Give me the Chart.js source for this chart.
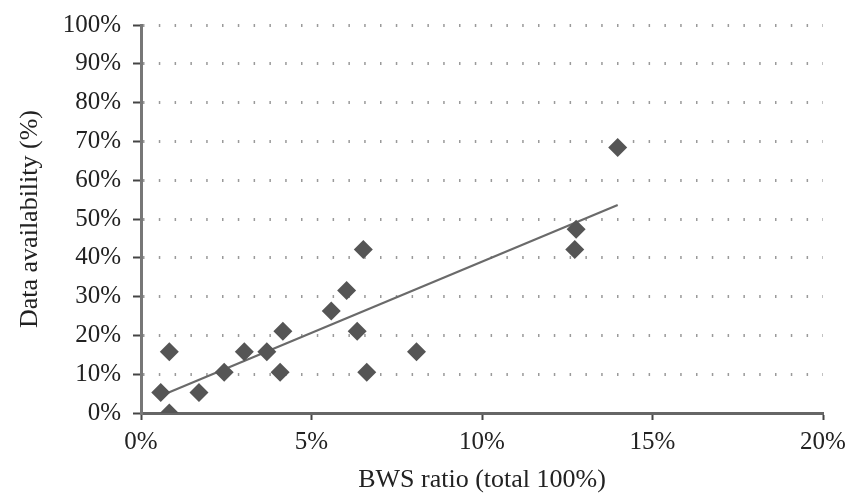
<!DOCTYPE html>
<html>
<head>
<meta charset="utf-8">
<script src="https://cdn.jsdelivr.net/npm/chart.js@4/dist/chart.umd.min.js"></script>
<style>
  html, body { margin: 0; padding: 0; background: #fff; }
  #wrap { width: 849px; height: 497px; }
</style>
</head>
<body>
<div id="wrap"><canvas id="c" width="849" height="497"></canvas></div>
<script>
// BWS ratio (x, fraction of total) for each observation
const bwsRatio = [0.0083, 0.0058, 0.0083, 0.0170, 0.0244, 0.0303, 0.0369, 0.0408, 0.0416,
                  0.0558, 0.0603, 0.0634, 0.0652, 0.0662, 0.0808, 0.1276, 0.1272, 0.1398];
// Data availability (y, fraction) for each observation
const dataAvailability = [0.0, 0.0526, 0.1579, 0.0526, 0.1053, 0.1579, 0.1579, 0.1053, 0.2105,
                          0.2632, 0.3158, 0.2105, 0.4211, 0.1053, 0.1579, 0.4737, 0.4211, 0.6842];
// Linear trend line end points
const trendX = [0.006, 0.1398];
const trendY = [0.045, 0.536];
// Axis tick values
const xTicks = [0, 0.05, 0.10, 0.15, 0.20];
const yTicks = [0, 0.1, 0.2, 0.3, 0.4, 0.5, 0.6, 0.7, 0.8, 0.9, 1.0];

const pts = bwsRatio.map((x, i) => ({ x: x, y: dataAvailability[i] }));
const trend = trendX.map((x, i) => ({ x: x, y: trendY[i] }));

const FONT = '"Liberation Serif", "Times New Roman", serif';
const pct = v => Math.round(v * 100) + '%';

new Chart(document.getElementById('c'), {
  type: 'scatter',
  data: {
    datasets: [
      {
        label: 'Trend',
        data: trend,
        showLine: true,
        borderColor: '#6a6a6a',
        borderWidth: 2.2,
        pointRadius: 0,
        fill: false,
        order: 2
      },
      {
        label: 'Data availability',
        data: pts,
        pointStyle: 'rectRot',
        pointRadius: 9.5,
        backgroundColor: '#555555',
        borderColor: '#555555',
        borderWidth: 0,
        order: 1
      }
    ]
  },
  options: {
    responsive: false,
    animation: false,
    devicePixelRatio: 1,
    layout: { padding: { left: 0, right: 26, top: 25, bottom: 0 } },
    plugins: { legend: { display: false }, tooltip: { enabled: false } },
    scales: {
      x: {
        type: 'linear',
        min: 0, max: 0.2,
        afterBuildTicks: s => { s.ticks = xTicks.map(v => ({ value: v })); },
        afterFit: s => { s.height = 84; s.paddingLeft = 0; s.paddingRight = 0; },
        grid: { drawOnChartArea: false, drawTicks: true, tickLength: 7, tickColor: '#444', tickWidth: 2 },
        border: { display: true, color: '#666', width: 3 },
        ticks: { callback: v => pct(v), color: '#222', font: { family: FONT, size: 25 }, padding: 7, maxRotation: 0 },
        title: { display: true, text: 'BWS ratio (total 100%)', color: '#222', font: { family: FONT, size: 26 }, padding: { top: 0, bottom: 1 } }
      },
      y: {
        type: 'linear',
        min: 0, max: 1,
        afterBuildTicks: s => { s.ticks = yTicks.map(v => ({ value: v })); },
        afterFit: s => { s.width = 141; s.paddingTop = 0; s.paddingBottom = 0; },
        grid: { drawOnChartArea: true, color: '#9a9a9a', lineWidth: 3, drawTicks: true, tickLength: 8, tickColor: '#444', tickWidth: 2 },
        border: { display: true, color: '#777', width: 3, dash: [1.5, 14.3], dashOffset: 0 },
        ticks: { callback: v => pct(v), color: '#222', font: { family: FONT, size: 25 }, padding: 12 },
        title: { display: true, text: 'Data availability (%)', color: '#222', font: { family: FONT, size: 26 }, padding: { top: 15, bottom: 0 } }
      }
    }
  }
});
</script>
</body>
</html>
